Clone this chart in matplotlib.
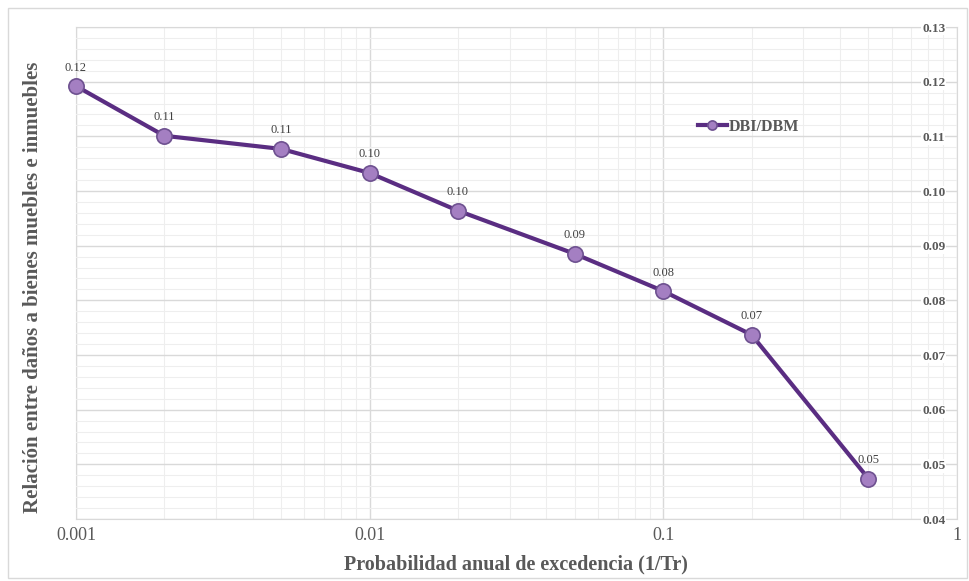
import numpy as np
import matplotlib
from matplotlib import pyplot as plt
from matplotlib.patches import Rectangle
from matplotlib.ticker import FixedLocator, MultipleLocator, NullFormatter

matplotlib.rc('font', family='Liberation Serif')

# datos
prob = [0.001, 0.002, 0.005, 0.01, 0.02, 0.05, 0.1, 0.2, 0.5]
relacion = [0.1192, 0.1101, 0.1077, 0.1033, 0.0964, 0.0885, 0.0817, 0.0737, 0.0474]
etiquetas = ['0.12', '0.11', '0.11', '0.10', '0.10', '0.09', '0.08', '0.07', '0.05']
x_ticks = [0.001, 0.01, 0.1, 1]
x_ticklabels = ['0.001', '0.01', '0.1', '1']
y_ticks = [0.04, 0.05, 0.06, 0.07, 0.08, 0.09, 0.10, 0.11, 0.12, 0.13]

gris = '#595959'
linea = '#5A2D82'
relleno = '#A47FC2'

fig = plt.figure(figsize=(9.69, 5.81), dpi=100)
fig.patches.append(Rectangle((0.008, 0.005), 0.99, 0.982, transform=fig.transFigure,
                             fill=False, edgecolor='#d9d9d9', linewidth=1))
ax = fig.add_axes([0.0784, 0.1067, 0.909, 0.8468])

ax.plot(prob, relacion, color=linea, linewidth=3, marker='o', markersize=11,
        markerfacecolor=relleno, markeredgecolor='#6E5190', markeredgewidth=1.2,
        label='DBI/DBM', zorder=3, clip_on=False)
for x, y, t in zip(prob, relacion, etiquetas):
    ax.annotate(t, (x, y), xytext=(0, 9), textcoords='offset points',
                ha='center', va='bottom', fontsize=9, color='#404040')

ax.set_xscale('log')
ax.set_xlim(0.001, 1)
ax.set_ylim(0.04, 0.13)
ax.xaxis.set_major_locator(FixedLocator(x_ticks))
ax.set_xticklabels(x_ticklabels)
ax.xaxis.set_minor_formatter(NullFormatter())
ax.set_yticks(y_ticks)
ax.set_yticklabels([f'{v:.2f}' for v in y_ticks])
ax.yaxis.set_minor_locator(MultipleLocator(0.002))

ax.yaxis.tick_right()
ax.tick_params(axis='y', which='both', length=0, pad=-25, labelsize=9.5,
               labelcolor=gris)
for lab in ax.get_yticklabels():
    lab.set_fontweight('bold')
    lab.set_bbox(dict(facecolor='white', edgecolor='none', pad=0.5))
ax.tick_params(axis='x', which='both', length=0, pad=6, labelsize=13,
               labelcolor=gris)

ax.grid(which='major', color='#d9d9d9', linewidth=1)
ax.grid(which='minor', color='#eeeeee', linewidth=0.8)
ax.set_axisbelow(True)
for s in ax.spines.values():
    s.set_color('#d9d9d9')
    s.set_zorder(0.4)

ax.set_xlabel('Probabilidad anual de excedencia (1/Tr)', fontsize=14.5,
              fontweight='bold', color=gris, labelpad=7)
fig.text(0.034, 0.506, 'Relación entre daños a bienes muebles e inmuebles',
         rotation=90, ha='center', va='center', fontsize=15,
         fontweight='bold', color=gris)

ax.legend(loc='center left', bbox_to_anchor=(0.69, 0.797), frameon=False,
          handlelength=1.8, handletextpad=0.1, markerscale=0.6,
          labelcolor=gris, prop={'weight': 'bold', 'size': 11.5})

plt.savefig('out.png', dpi=100)
